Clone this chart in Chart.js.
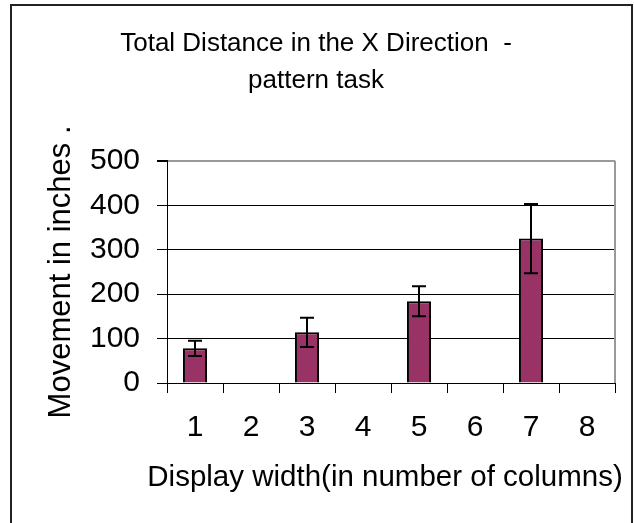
<!DOCTYPE html>
<html lang="en">
<head>
  <meta charset="UTF-8">
  <title>Total Distance in the X Direction - pattern task</title>
  <script src="https://cdn.jsdelivr.net/npm/chart.js"></script>
  <style>
    body {
      margin: 0;
      padding: 0;
      background-color: white;
    }
    .chart-container {
      position: relative;
      width: 634px;
      height: 523px;
    }
  </style>
</head>
<body>
  <div class="chart-container">
    <canvas id="distanceChart"></canvas>
  </div>

  <script>
    // data
    const columns = ['1', '2', '3', '4', '5', '6', '7', '8'];
    const movement = [78, null, 114, null, 184, null, 325, null];
    const movementErr = [17, null, 33, null, 34, null, 78, null];
    const yTicks = [0, 100, 200, 300, 400, 500];
    const xTitle = 'Display width(in number of columns)';

    Chart.defaults.font.family = "'Liberation Sans', Arial, sans-serif";
    Chart.defaults.color = '#000';

    // outer frame, right edge of the plot area, x axis title
    // (the x title is wider than the plot, so the scale title would squeeze it)
    const framePlugin = {
      id: 'frame',
      beforeDraw(chart) {
        const ctx = chart.ctx;
        ctx.save();
        ctx.fillStyle = '#fff';
        ctx.fillRect(0, 0, chart.width, chart.height);
        ctx.strokeStyle = '#222';
        ctx.lineWidth = 2;
        ctx.strokeRect(11, 5, 621, 530);
        ctx.restore();
      },
      beforeDatasetsDraw(chart) {
        const a = chart.chartArea;
        const ctx = chart.ctx;
        ctx.save();
        ctx.strokeStyle = '#999';
        ctx.lineWidth = 2;
        ctx.beginPath();
        ctx.moveTo(a.right, a.top);
        ctx.lineTo(a.right, a.bottom);
        ctx.stroke();
        ctx.restore();
      },
      afterDraw(chart) {
        const ctx = chart.ctx;
        ctx.save();
        ctx.fillStyle = '#000';
        ctx.font = "29.5px 'Liberation Sans', Arial, sans-serif";
        ctx.textAlign = 'center';
        ctx.textBaseline = 'middle';
        ctx.fillText(xTitle, 385, 478);
        ctx.restore();
      }
    };

    // error bars on top of the columns
    const errorBarPlugin = {
      id: 'errorBars',
      afterDatasetsDraw(chart) {
        const ctx = chart.ctx;
        const y = chart.scales.y;
        const meta = chart.getDatasetMeta(0);
        ctx.save();
        ctx.strokeStyle = '#000';
        ctx.lineWidth = 2;
        meta.data.forEach((bar, i) => {
          const v = movement[i];
          const e = movementErr[i];
          if (v == null || e == null) return;
          const yHi = y.getPixelForValue(v + e);
          const yLo = y.getPixelForValue(v - e);
          ctx.beginPath();
          ctx.moveTo(bar.x, yHi);
          ctx.lineTo(bar.x, yLo);
          ctx.moveTo(bar.x - 7, yHi);
          ctx.lineTo(bar.x + 7, yHi);
          ctx.moveTo(bar.x - 7, yLo);
          ctx.lineTo(bar.x + 7, yLo);
          ctx.stroke();
        });
        ctx.restore();
      }
    };

    const distanceCtx = document.getElementById('distanceChart').getContext('2d');
    const distanceChart = new Chart(distanceCtx, {
      type: 'bar',
      data: {
        labels: columns,
        datasets: [{
          label: 'Movement',
          data: movement,
          backgroundColor: '#993366',
          borderColor: '#000',
          borderWidth: 2,
          barPercentage: 0.43,
          categoryPercentage: 1
        }]
      },
      options: {
        responsive: true,
        maintainAspectRatio: false,
        animation: false,
        layout: {
          padding: { left: 0, right: 2, top: 0, bottom: 0 }
        },
        plugins: {
          legend: { display: false },
          tooltip: { enabled: false },
          title: {
            display: true,
            text: ['Total Distance in the X Direction  -', 'pattern task'],
            font: { size: 26, weight: 'normal', lineHeight: 1.42 },
            color: '#000',
            padding: { top: 25, bottom: 62 }
          }
        },
        scales: {
          x: {
            offset: true,
            grid: {
              offset: true,
              drawOnChartArea: false,
              tickLength: 10,
              tickColor: '#000'
            },
            border: { color: '#000', width: 1 },
            ticks: {
              font: { size: 30 },
              padding: 17,
              maxRotation: 0
            },
            afterFit(scale) { scale.height = 140; }
          },
          y: {
            min: 0,
            max: 500,
            afterBuildTicks(scale) {
              scale.ticks = yTicks.map(v => ({ value: v }));
            },
            grid: {
              color: (c) => (c.tick && c.tick.value === 500 ? '#999' : '#000'),
              lineWidth: (c) => (c.tick && c.tick.value === 500 ? 2 : 1),
              tickLength: 10,
              tickColor: '#000'
            },
            border: { color: '#000', width: 1 },
            ticks: {
              font: { size: 30 },
              padding: 17
            },
            title: {
              display: true,
              text: 'Movement in inches .',
              font: { size: 31 },
              padding: { top: 43, bottom: 0 }
            },
            afterFit(scale) { scale.width = 167; }
          },
          // empty spacer on the right so the centred title sits where it should
          spacer: {
            type: 'linear',
            position: 'right',
            grid: { display: false },
            ticks: { display: false },
            border: { display: false },
            afterFit(scale) { scale.width = 17; }
          }
        }
      },
      plugins: [framePlugin, errorBarPlugin]
    });
  </script>
</body>
</html>
